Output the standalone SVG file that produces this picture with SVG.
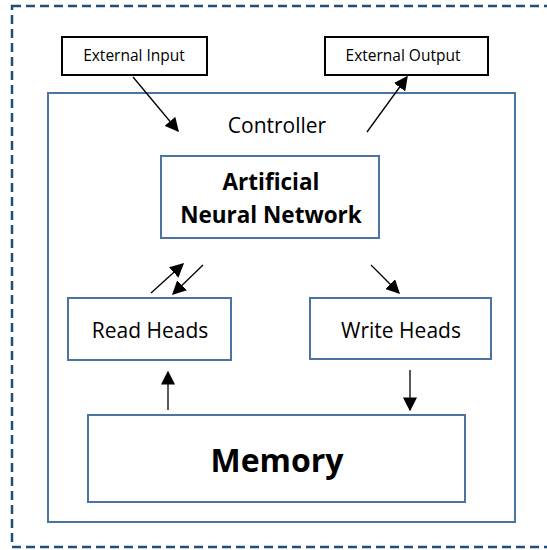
<svg xmlns="http://www.w3.org/2000/svg" width="547" height="550" viewBox="0 0 547 550">
<defs>
<marker id="ahs" viewBox="0 0 10 10" markerWidth="14" markerHeight="14" refX="9" refY="5" orient="auto" markerUnits="userSpaceOnUse"><path d="M0,0 L10,5 L0,10 z" fill="#000"/></marker>
<style>
.blue{fill:#fff;stroke:#4b74a3;stroke-width:2}
.blk{fill:#fff;stroke:#000;stroke-width:2}
text{font-family:"Open Sans","Liberation Sans",Arial,sans-serif;fill:#000;text-anchor:middle}
.sm{font-size:15.5px}
.md{font-size:21px}
.bd{font-size:22.5px;font-weight:bold}
.lg{font-size:32px;font-weight:bold}
.ln{stroke:#000;stroke-width:1.3;fill:none;marker-end:url(#ahs)}
</style>
</defs>
<rect x="0" y="0" width="547" height="550" fill="#fff"/>
<rect id="outer" x="12" y="6" width="560" height="541" fill="none" stroke="#1f4e79" stroke-width="2.5" stroke-dasharray="9,5"/>
<g id="controller"><rect class="blue" x="48" y="93" width="467" height="429"/><text class="md" x="277" y="133">Controller</text></g>
<g id="external-input"><rect class="blk" x="62" y="37" width="145" height="38"/><text class="sm" x="134" y="61">External Input</text></g>
<g id="external-output"><rect class="blk" x="325" y="37" width="163" height="38"/><text class="sm" x="403" y="61">External Output</text></g>
<g id="ann"><rect class="blue" x="161" y="156" width="218" height="82"/><text class="bd" x="271" y="190">Artificial</text><text class="bd" x="271" y="223">Neural Network</text></g>
<g id="read-heads"><rect class="blue" x="68" y="298" width="163" height="62"/><text class="md" x="150" y="338">Read Heads</text></g>
<g id="write-heads"><rect class="blue" x="310" y="298" width="181" height="61"/><text class="md" x="401" y="338">Write Heads</text></g>
<g id="memory"><rect class="blue" x="88" y="415" width="377" height="87"/><text class="lg" x="277" y="472">Memory</text></g>
<g id="connectors">
<line class="ln" x1="133" y1="77" x2="178" y2="131"/>
<line class="ln" x1="367" y1="132" x2="407" y2="77"/>
<line class="ln" x1="151" y1="293" x2="183" y2="264"/>
<line class="ln" x1="203" y1="265" x2="173" y2="294"/>
<line class="ln" x1="371" y1="265" x2="399" y2="293"/>
<line class="ln" x1="168" y1="410" x2="168" y2="372"/>
<line class="ln" x1="410" y1="370" x2="410" y2="410"/>
</g>
</svg>
